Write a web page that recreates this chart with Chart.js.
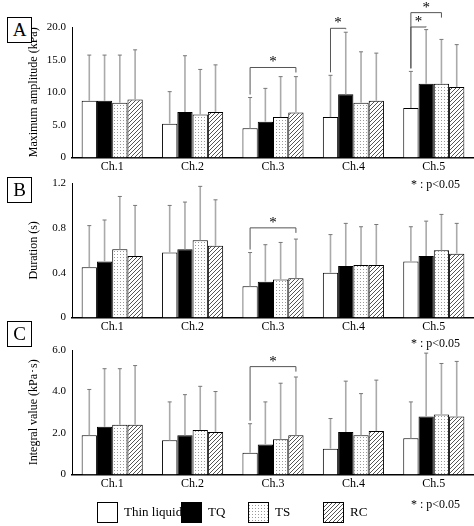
<!DOCTYPE html>
<html><head><meta charset="utf-8">
<script src="https://cdn.jsdelivr.net/npm/chart.js@4"></script>
<style>
body{margin:0;background:#fff;font-family:"Liberation Serif",serif;}
#wrap{position:relative;width:474px;height:526px;}
canvas{position:absolute;left:0;}
.box{position:absolute;border:1.5px solid #000;width:23px;height:24px;font-size:19px;text-align:center;line-height:24px;background:#fff;}
.p{position:absolute;font-size:12px;}
</style></head><body>
<div id="wrap">
<canvas id="cA" width="474" height="176" style="top:0"></canvas>
<canvas id="cB" width="474" height="166" style="top:170px"></canvas>
<canvas id="cC" width="474" height="158" style="top:335px"></canvas>
<div class="box" style="left:7px;top:17px">A</div>
<div class="box" style="left:7px;top:177px">B</div>
<div class="box" style="left:7px;top:321px">C</div>
<div class="p" style="left:411px;top:177px">* : p&lt;0.05</div>
<div class="p" style="left:411px;top:336px">* : p&lt;0.05</div>
<div class="p" style="left:411px;top:497px">* : p&lt;0.05</div>
<canvas id="leg" width="340" height="26" style="top:499px;left:96px"></canvas>
</div>
<script>
const channels = ["Ch.1", "Ch.2", "Ch.3", "Ch.4", "Ch.5"];
const seriesNames = ["Thin liquid", "TQ", "TS", "RC"];

// A: maximum amplitude (kPa)
const ampThin = [8.7, 5.2, 4.5, 6.2, 7.6];
const ampTQ = [8.7, 7.0, 5.5, 9.7, 11.3];
const ampTS = [8.4, 6.6, 6.2, 8.4, 11.3];
const ampRC = [8.9, 7.0, 6.9, 8.7, 10.8];
const ampThinTop = [15.7, 10.1, 9.2, 12.6, 13.2];
const ampTQTop = [15.7, 15.6, 10.6, 19.2, 19.6];
const ampTSTop = [15.7, 13.5, 12.4, 16.2, 18.1];
const ampRCTop = [16.5, 14.2, 12.4, 16.0, 17.3];
// brackets: [channel, fromSeries, toSeries, height]
const ampSig = [[2, 0, 3, 13.8], [3, 0, 1, 19.8], [4, 0, 1, 20.0], [4, 0, 2, 22.2]];

// B: duration (s)
const durThin = [0.45, 0.58, 0.28, 0.40, 0.50];
const durTQ = [0.50, 0.61, 0.32, 0.46, 0.55];
const durTS = [0.61, 0.69, 0.34, 0.47, 0.60];
const durRC = [0.55, 0.64, 0.35, 0.47, 0.57];
const durThinTop = [0.82, 1.00, 0.58, 0.74, 0.81];
const durTQTop = [0.87, 1.03, 0.65, 0.84, 0.86];
const durTSTop = [1.08, 1.17, 0.67, 0.81, 0.92];
const durRCTop = [1.00, 1.05, 0.70, 0.83, 0.84];
const durSig = [[2, 0, 3, 0.80]];

// C: integral value (kPa·s)
const intThin = [1.9, 1.65, 1.05, 1.25, 1.75];
const intTQ = [2.3, 1.9, 1.45, 2.05, 2.8];
const intTS = [2.4, 2.15, 1.7, 1.9, 2.9];
const intRC = [2.4, 2.05, 1.9, 2.1, 2.8];
const intThinTop = [4.1, 3.5, 2.45, 2.7, 3.5];
const intTQTop = [5.1, 3.85, 3.5, 4.5, 5.85];
const intTSTop = [5.1, 4.25, 4.4, 3.9, 5.35];
const intRCTop = [5.25, 4.0, 4.7, 4.55, 5.45];
const intSig = [[2, 0, 3, 5.2]];

function dotPattern() {
  const c = document.createElement("canvas"); c.width = 3; c.height = 3;
  const g = c.getContext("2d");
  g.fillStyle = "#fff"; g.fillRect(0, 0, 3, 3);
  g.fillStyle = "#999"; g.fillRect(0, 0, 1, 1);
  return g.createPattern(c, "repeat");
}
function hatchPattern() {
  const c = document.createElement("canvas"); c.width = 4; c.height = 4;
  const g = c.getContext("2d");
  g.fillStyle = "#fff"; g.fillRect(0, 0, 4, 4);
  g.strokeStyle = "#555"; g.lineWidth = 1;
  g.beginPath(); g.moveTo(0, 4); g.lineTo(4, 0); g.moveTo(-1, 1); g.lineTo(1, -1); g.moveTo(3, 5); g.lineTo(5, 3); g.stroke();
  return g.createPattern(c, "repeat");
}
const fills = ["#fff", "#000", dotPattern(), hatchPattern()];

const extras = {
  id: "extras",
  afterDatasetsDraw(chart, args, opts) {
    const ctx = chart.ctx, y = chart.scales.y;
    ctx.save();
    // error bars (upper only, gray)
    chart.data.datasets.forEach((ds, i) => {
      const meta = chart.getDatasetMeta(i);
      opts.tops[i].forEach((t, j) => {
        const bar = meta.data[j];
        const yt = y.getPixelForValue(t);
        ctx.strokeStyle = "#aaa"; ctx.lineWidth = 1.6;
        ctx.beginPath(); ctx.moveTo(bar.x, bar.y); ctx.lineTo(bar.x, yt); ctx.stroke();
        ctx.strokeStyle = "#777"; ctx.lineWidth = 1;
        ctx.beginPath(); ctx.moveTo(bar.x - 2, yt); ctx.lineTo(bar.x + 2, yt); ctx.stroke();
      });
    });
    // significance brackets
    ctx.strokeStyle = "#555"; ctx.lineWidth = 1; ctx.fillStyle = "#000";
    ctx.font = "15px 'Liberation Serif'"; ctx.textAlign = "center";
    opts.sig.forEach(([c, a, b, h]) => {
      const xa = chart.getDatasetMeta(a).data[c].x, xb = chart.getDatasetMeta(b).data[c].x;
      const yh = y.getPixelForValue(h);
      const ya = y.getPixelForValue(opts.tops[a][c]) - 3, yb = y.getPixelForValue(opts.tops[b][c]) - 3;
      ctx.beginPath(); ctx.moveTo(xa, ya); ctx.lineTo(xa, yh); ctx.lineTo(xb, yh); ctx.lineTo(xb, Math.min(yb, yh + 5)); ctx.stroke();
      ctx.fillText("*", (xa + xb) / 2, yh - 1);
    });
    ctx.restore();
  }
};

function makeChart(id, vals, tops, sig, max, step, dec, title, padTop) {
  new Chart(document.getElementById(id), {
    type: "bar",
    data: {
      labels: channels,
      datasets: vals.map((v, i) => ({
        label: seriesNames[i], data: v, backgroundColor: fills[i],
        borderColor: "#000", borderWidth: 1, categoryPercentage: 0.76, barPercentage: 1
      }))
    },
    options: {
      responsive: false, animation: false,
      layout: { padding: { top: padTop, right: 0, left: 28 } },
      plugins: { legend: { display: false }, tooltip: { enabled: false }, extras: { tops: tops, sig: sig } },
      scales: {
        x: {
          grid: { display: false, drawTicks: false },
          border: { color: "#000", width: 1.5 },
          ticks: { color: "#000", font: { family: "Liberation Serif", size: 12 }, padding: 2 }
        },
        y: {
          min: 0, max: max,
          afterFit(s) { s.width = 44; },
          grid: { display: false, drawTicks: true, tickLength: 3, tickColor: "#000" },
          border: { color: "#000", width: 1 },
          ticks: { stepSize: step, color: "#000", font: { family: "Liberation Serif", size: 11 },
            callback: v => v === 0 ? "0" : v.toFixed(dec) }
        }
      }
    },
    plugins: [extras, {
      id: "ytitle",
      afterDraw(chart) {
        const ctx = chart.ctx, a = chart.chartArea;
        ctx.save();
        ctx.translate(40, (a.top + a.bottom) / 2);
        ctx.rotate(-Math.PI / 2);
        ctx.font = "12px 'Liberation Serif'"; ctx.fillStyle = "#000";
        ctx.textAlign = "center"; ctx.textBaseline = "bottom";
        ctx.fillText(title, 0, 0);
        ctx.restore();
      }
    }]
  });
}

makeChart("cA", [ampThin, ampTQ, ampTS, ampRC], [ampThinTop, ampTQTop, ampTSTop, ampRCTop], ampSig, 20, 5, 1, "Maximum amplitude (kPa)", 27);
makeChart("cB", [durThin, durTQ, durTS, durRC], [durThinTop, durTQTop, durTSTop, durRCTop], durSig, 1.2, 0.4, 1, "Duration (s)", 13);
makeChart("cC", [intThin, intTQ, intTS, intRC], [intThinTop, intTQTop, intTSTop, intRCTop], intSig, 6, 2, 1, "Integral value (kPa･s)", 15);

// legend
const lg = document.getElementById("leg").getContext("2d");
const legX = [0, 84, 151, 226];
lg.font = "13px 'Liberation Serif'"; lg.textBaseline = "middle";
seriesNames.forEach((n, i) => {
  lg.fillStyle = fills[i]; lg.fillRect(legX[i] + 1, 3, 20, 20);
  lg.strokeStyle = "#000"; lg.lineWidth = 1; lg.strokeRect(legX[i] + 1.5, 3.5, 20, 20);
  lg.fillStyle = "#000"; lg.fillText(n, legX[i] + 28, 14);
});
</script>
</body></html>
